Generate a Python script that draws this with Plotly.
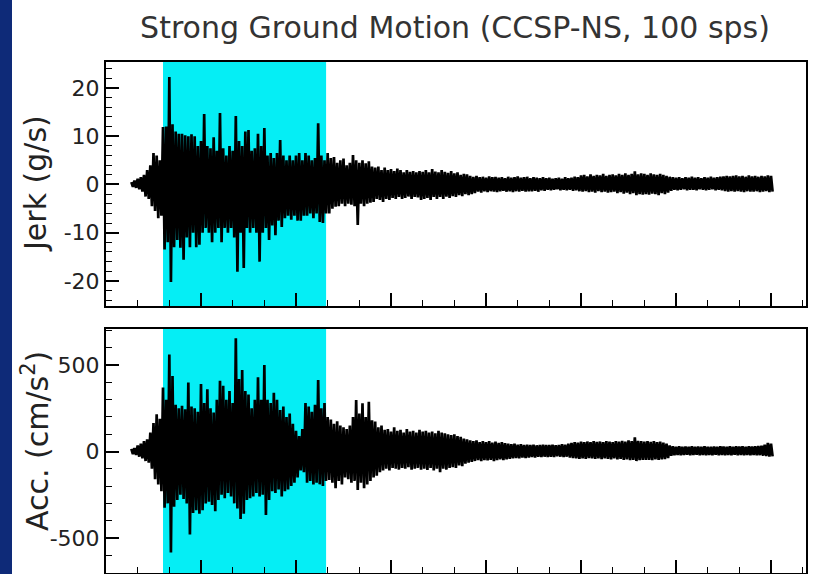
import numpy as np
import plotly.graph_objects as go

# Sampling of the envelope: one peak and one trough per second, starting at T0
T0 = 8.0
DT = 1.0

# Jerk (g/s): positive peaks and negative troughs, one pair per second from t = 8 s
JERK_UP = [
    0.5, 0.8, 1.2, 1.5, 2.0, 3.0, 4.0, 6.5, 6.0, 5.0,
    11.9, 12.0, 22.3, 12.5, 11.0, 10.5, 10.5, 10.2, 10.0, 10.4,
    10.0, 8.0, 9.0, 14.6, 8.0, 7.5, 9.8, 7.0, 14.8, 7.5,
    6.0, 8.0, 7.0, 14.2, 9.0, 8.0, 11.0, 11.3, 7.0, 7.5,
    10.5, 8.0, 11.7, 6.0, 6.5, 5.5, 6.5, 9.2, 6.0, 5.0,
    6.0, 5.0, 6.0, 6.5, 5.0, 6.5, 6.0, 5.0, 5.5, 12.7,
    6.0, 5.0, 6.5, 5.5, 5.7, 4.5, 5.0, 5.4, 4.0, 4.5,
    6.1, 5.0, 4.5, 5.0, 4.4, 4.8, 3.7, 3.5, 3.7, 3.0,
    3.5, 3.0, 3.2, 2.8, 3.3, 3.0, 2.5, 3.0, 2.6, 2.8,
    2.5, 2.8, 2.6, 3.0, 2.5, 3.2, 2.7, 2.5, 3.0, 2.6,
    2.4, 2.8, 2.3, 2.5, 2.0, 2.2, 2.1, 1.8, 1.6, 1.8,
    1.5, 1.6, 1.4, 1.7, 1.5, 1.6, 1.4, 1.5, 1.3, 1.6,
    1.4, 1.5, 1.7, 1.4, 1.5, 1.6, 1.3, 1.5, 1.4, 1.3,
    1.5, 1.3, 1.4, 1.2, 1.3, 1.4, 1.2, 1.5, 1.3, 1.4,
    1.6, 1.5, 1.9, 2.0, 1.7, 2.1, 1.8, 2.0, 1.9, 2.2,
    1.8, 2.0, 2.1, 1.9, 2.2, 2.0, 2.3, 2.0, 2.2, 2.7,
    2.1, 2.3, 2.2, 2.0, 2.3, 2.1, 2.0, 2.2, 2.0, 1.8,
    1.6, 1.5, 1.4, 1.5, 1.3, 1.5, 1.4, 1.6, 1.4, 1.5,
    1.3, 1.5, 1.4, 1.6, 1.4, 1.5, 1.6, 1.7, 1.8, 1.7,
    1.8, 1.9, 1.7, 1.8, 1.6, 1.9, 1.7, 1.8, 1.6, 1.8,
    1.7, 1.9, 1.8,
]
JERK_DN = [
    -0.5, -0.7, -1.0, -1.5, -2.5, -3.0, -4.5, -5.5, -7.0, -6.5,
    -13.5, -12.0, -20.2, -13.0, -11.5, -13.1, -15.6, -11.0, -13.0, -10.0,
    -13.0, -12.5, -10.0, -9.0, -10.0, -12.0, -10.0, -9.0, -12.0, -9.0,
    -10.0, -9.0, -11.0, -18.1, -10.0, -17.3, -9.0, -10.0, -9.0, -10.0,
    -16.0, -10.0, -9.0, -11.5, -8.5, -10.5, -7.5, -8.8, -7.0, -6.5,
    -7.3, -6.5, -7.5, -7.5, -6.5, -6.5, -6.0, -7.0, -6.0, -7.8,
    -8.0, -6.0, -6.0, -5.0, -4.6, -4.5, -4.0, -4.5, -4.0, -4.2,
    -4.5, -8.4, -4.0, -4.5, -4.0, -3.8, -3.6, -3.0, -3.2, -3.6,
    -3.0, -3.2, -2.8, -3.0, -2.6, -3.0, -2.8, -2.5, -3.0, -2.6,
    -2.7, -3.2, -3.0, -2.8, -3.2, -2.6, -3.0, -2.6, -3.0, -2.5,
    -2.8, -2.4, -2.6, -2.2, -2.4, -2.0, -2.2, -2.0, -1.8, -1.5,
    -1.7, -1.4, -1.6, -1.4, -1.5, -1.6, -1.4, -1.3, -1.5, -1.4,
    -1.6, -1.4, -1.5, -1.3, -1.5, -1.4, -1.4, -1.3, -1.5, -1.2,
    -1.3, -1.1, -1.2, -1.1, -1.0, -1.2, -1.1, -1.2, -1.1, -1.3,
    -1.2, -1.4, -1.5, -1.4, -1.6, -1.5, -1.7, -1.4, -1.6, -1.5,
    -1.7, -1.6, -1.5, -1.8, -1.6, -1.9, -1.7, -2.0, -1.8, -2.2,
    -2.0, -2.1, -2.0, -2.1, -1.9, -2.0, -2.2, -1.8, -2.0, -1.7,
    -1.3, -1.1, -1.2, -1.1, -1.0, -1.2, -1.1, -1.1, -1.2, -1.0,
    -1.1, -1.2, -1.1, -1.0, -1.2, -1.1, -1.2, -1.4, -1.5, -1.4,
    -1.5, -1.4, -1.5, -1.6, -1.4, -1.5, -1.5, -1.4, -1.6, -1.5,
    -1.4, -1.6, -1.5,
]

# Acceleration (cm/s^2): positive peaks and negative troughs, same timing
ACC_UP = [
    15, 20, 35, 45, 60, 70, 110, 165, 215, 190,
    370, 300, 562, 437, 270, 250, 265, 245, 400, 260,
    250, 230, 390, 280, 360, 250, 225, 300, 410, 380,
    300, 350, 280, 656, 420, 471, 350, 330, 250, 300,
    430, 300, 500, 300, 280, 340, 300, 240, 260, 200,
    220, 160, 120, 90, 130, 280, 260, 230, 270, 414,
    250, 280, 200, 185, 160, 175, 150, 140, 130, 150,
    200, 298, 220, 279, 200, 288, 180, 173, 140, 150,
    125, 130, 115, 140, 120, 125, 110, 130, 115, 120,
    110, 125, 115, 120, 110, 115, 105, 120, 110, 105,
    100, 95, 100, 90, 85, 75, 70, 65, 60, 65,
    55, 60, 55, 60, 52, 58, 50, 55, 48, 45,
    42, 45, 40, 42, 38, 40, 38, 40, 36, 38,
    40, 38, 38, 40, 36, 38, 42, 40, 45, 50,
    55, 52, 57, 55, 58, 55, 60, 56, 58, 55,
    60, 57, 55, 60, 57, 62, 58, 65, 60, 82,
    62, 60, 58, 60, 56, 60, 55, 58, 52, 45,
    35, 30, 28, 30, 27, 29, 28, 30, 27, 29,
    28, 30, 28, 27, 29, 28, 30, 29, 28, 30,
    28, 31, 29, 30, 28, 31, 29, 30, 32, 34,
    40, 50, 45,
]
ACC_DN = [
    -15, -20, -30, -40, -55, -65, -100, -160, -190, -230,
    -325, -300, -585, -320, -280, -250, -275, -300, -480, -355,
    -340, -360, -340, -300, -290, -310, -345, -280, -250, -270,
    -240, -260, -300, -330, -390, -360, -280, -270, -260, -240,
    -260, -250, -367, -280, -230, -240, -220, -260, -230, -220,
    -200, -180, -150, -110, -120, -180, -170, -190, -180, -190,
    -200, -170, -165, -180, -213, -170, -190, -150, -160, -180,
    -170, -222, -180, -213, -190, -170, -150, -140, -120, -110,
    -100, -110, -95, -100, -105, -95, -100, -90, -105, -100,
    -95, -105, -100, -107, -95, -110, -100, -120, -100, -105,
    -95, -90, -95, -80, -85, -70, -65, -60, -55, -50,
    -55, -50, -52, -48, -55, -50, -45, -50, -45, -42,
    -40, -38, -40, -35, -38, -35, -32, -35, -30, -32,
    -30, -32, -30, -32, -28, -30, -32, -30, -35, -38,
    -40, -42, -40, -42, -38, -40, -42, -40, -44, -40,
    -42, -45, -40, -45, -42, -48, -45, -50, -48, -55,
    -50, -48, -49, -48, -50, -46, -49, -45, -44, -38,
    -25, -22, -20, -22, -20, -18, -22, -20, -19, -21,
    -20, -22, -20, -21, -19, -22, -20, -21, -20, -22,
    -19, -21, -20, -22, -20, -21, -20, -22, -21, -24,
    -26, -30, -28,
]

# Highlighted strong-motion window (s) and time axis extent (s)
WINDOW = [18.0, 69.5]
X_RANGE = [0.0, 221.05]
JERK_RANGE = [-25.2, 25.4]
ACC_RANGE = [-703, 709]

# Y tick values and labels (plain hyphen minus signs)
JERK_TICKS = [-20, -10, 0, 10, 20]
JERK_TICKTEXT = ["-20", "-10", "0", "10", "20"]
ACC_TICKS = [-500, 0, 500]
ACC_TICKTEXT = ["-500", "0", "500"]

TITLE = "Strong Ground Motion (CCSP-NS, 100 sps)"
JERK_LABEL = "Jerk (g/s)"
ACC_LABEL = "Acc. (cm/s<sup>2</sup>)"


def trace_xy(up, dn):
    """Interleave peaks and troughs into one time series."""
    up = np.asarray(up, float)
    dn = np.asarray(dn, float)
    assert len(up) == len(dn)
    t = T0 + DT * np.arange(len(up))
    x = np.empty(2 * len(up))
    y = np.empty(2 * len(up))
    x[0::2], x[1::2] = t, t + DT / 2
    y[0::2], y[1::2] = up, dn
    return x, y


FONT = "DejaVu Sans"
W, H = 819, 574
ML, MR, MT, MB = 106, 13, 62, 1
PW, PH = W - ML - MR, H - MT - MB
TOP_PANEL = [(H - MB - 306) / PH, 1.0]
BOT_PANEL = [0.0, (H - MB - 329) / PH]
TRACE_WIDTH = 2.7

fig = go.Figure()
jx, jy = trace_xy(JERK_UP, JERK_DN)
ax_, ay_ = trace_xy(ACC_UP, ACC_DN)
fig.add_trace(go.Scatter(x=jx, y=jy, mode="lines",
                         line=dict(color="black", width=TRACE_WIDTH),
                         xaxis="x", yaxis="y", showlegend=False, hoverinfo="skip"))
fig.add_trace(go.Scatter(x=ax_, y=ay_, mode="lines",
                         line=dict(color="black", width=TRACE_WIDTH),
                         xaxis="x2", yaxis="y2", showlegend=False, hoverinfo="skip"))

xcommon = dict(range=X_RANGE, showline=True, mirror=True, linecolor="black", linewidth=2,
               showgrid=False, zeroline=False, showticklabels=False,
               ticks="inside", tick0=0, dtick=30, ticklen=13, tickwidth=1.5, tickcolor="black",
               minor=dict(ticks="inside", dtick=10, ticklen=6, tickwidth=1.2, tickcolor="black"))
ycommon = dict(showline=True, mirror=True, linecolor="black", linewidth=2,
               showgrid=False, zeroline=False, ticks="inside", ticklen=13, tickwidth=1.5,
               tickcolor="black", tickfont=dict(family=FONT, size=22, color="#222"))

fig.update_layout(
    width=W, height=H,
    margin=dict(l=ML, r=MR, t=MT, b=MB),
    paper_bgcolor="white", plot_bgcolor="white",
    xaxis=dict(domain=[0, 1], anchor="y", **xcommon),
    xaxis2=dict(domain=[0, 1], anchor="y2", **xcommon),
    yaxis=dict(domain=TOP_PANEL, anchor="x", range=JERK_RANGE, tickmode="array",
               tickvals=JERK_TICKS, ticktext=JERK_TICKTEXT,
               minor=dict(ticks="inside", tick0=0, dtick=2, ticklen=6, tickwidth=1.2,
                          tickcolor="black"),
               **ycommon),
    yaxis2=dict(domain=BOT_PANEL, anchor="x2", range=ACC_RANGE, tickmode="array",
                tickvals=ACC_TICKS, ticktext=ACC_TICKTEXT,
                minor=dict(ticks="inside", tick0=0, dtick=100, ticklen=6, tickwidth=1.2,
                           tickcolor="black"),
                **ycommon),
    title=dict(text=TITLE, font=dict(family=FONT, size=30, color="#333"),
               x=455 / W, xanchor="center", xref="container",
               y=1 - 27 / H, yanchor="middle", yref="container"),
)

# Shaded strong-motion window in both panels
for xr, yr in (("x", "y domain"), ("x2", "y2 domain")):
    fig.add_shape(type="rect", xref=xr, yref=yr, x0=WINDOW[0], x1=WINDOW[1], y0=0, y1=1,
                  fillcolor="#05eef5", line=dict(width=0), layer="below")

# Navy strip along the left edge of the slide
fig.add_shape(type="rect", xref="paper", yref="paper",
              x0=-ML / PW, x1=(12 - ML) / PW, y0=-MB / PH - 0.01, y1=(H - MB) / PH + 0.01,
              fillcolor="#0e2a78", line=dict(width=0), layer="above")

# Rotated axis titles
ylab_x = (35 - ML) / PW
fig.add_annotation(text=JERK_LABEL, xref="paper", yref="paper", x=ylab_x,
                   y=(TOP_PANEL[0] + TOP_PANEL[1]) / 2, textangle=-90, showarrow=False,
                   xanchor="center", yanchor="middle",
                   font=dict(family=FONT, size=30, color="#222"))
fig.add_annotation(text=ACC_LABEL, xref="paper", yref="paper", x=ylab_x,
                   y=(H - MB - 441) / PH, textangle=-90, showarrow=False,
                   xanchor="center", yanchor="middle",
                   font=dict(family=FONT, size=30, color="#222"))

fig.write_html("out.html")
